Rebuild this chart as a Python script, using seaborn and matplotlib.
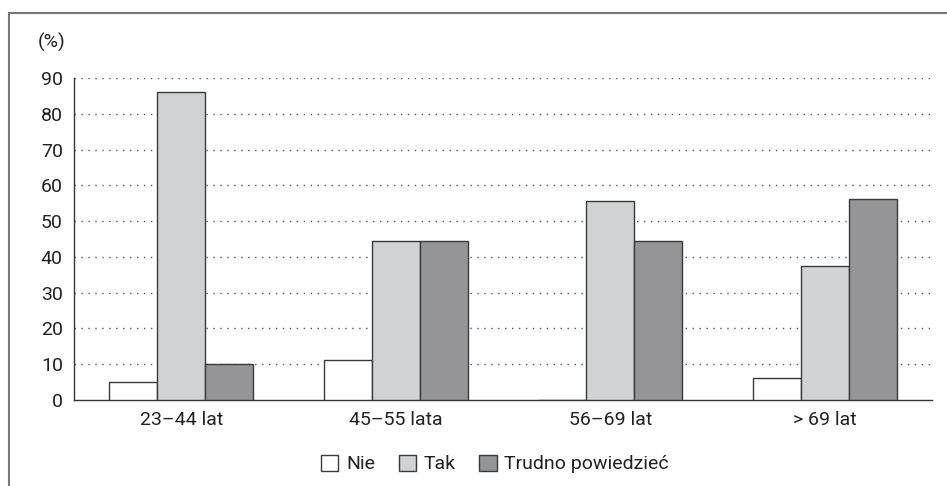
import matplotlib
matplotlib.use("Agg")
import matplotlib.pyplot as plt
from matplotlib.lines import Line2D
from matplotlib.patches import Patch
import seaborn as sns
import pandas as pd

categories = ["23–44 lat", "45–55 lata", "56–69 lat", "> 69 lat"]
series = ["Nie", "Tak", "Trudno powiedzieć"]
nie = [5, 11.1, 0, 6.25]
tak = [86, 44.4, 55.6, 37.5]
trudno = [10, 44.4, 44.4, 56.25]
yticks = [0, 10, 20, 30, 40, 50, 60, 70, 80, 90]
colors = ["#ffffff", "#d1d2d4", "#949598"]

rows = []
for s, vals in zip(series, [nie, tak, trudno]):
    for c, v in zip(categories, vals):
        rows.append({"cat": c, "series": s, "val": v})
df = pd.DataFrame(rows)

sns.set_style("white")
plt.rcParams["font.family"] = ["Liberation Sans Narrow", "Roboto", "DejaVu Sans"]

fig = plt.figure(figsize=(9.47, 4.86), dpi=100)
ax = fig.add_axes([74/947, 1-400/486, (932-74)/947, (400-78)/486])

sns.barplot(data=df, x="cat", y="val", hue="series", order=categories,
            hue_order=series, palette=colors, width=0.67, edgecolor="#3a3a3a",
            linewidth=1.0, ax=ax, legend=False, zorder=3)

ax.set_ylim(0, 90)
ax.set_xlim(-0.5, 3.5)
ax.set_yticks(yticks)
ax.set_yticklabels([str(t) for t in yticks], fontsize=14, color="#222222")
for t in yticks[1:]:
    ax.axhline(t, color="#555555", linestyle=(0, (1, 4)), linewidth=1.0, zorder=1)

ax.set_xticks(range(len(categories)))
ax.set_xticklabels(categories, fontsize=14, color="#222222")
ax.set_xticks([i - 0.5 for i in range(len(categories) + 1)], minor=True)
ax.tick_params(axis="x", which="major", length=0, pad=8)
ax.tick_params(axis="x", which="minor", length=8, width=1, color="#333333", direction="out")
ax.tick_params(axis="y", which="major", length=6, width=1, color="#333333", direction="out", pad=2)
ax.set_xlabel("")
ax.set_ylabel("")
for side in ["top", "right"]:
    ax.spines[side].set_visible(False)
for side in ["left", "bottom"]:
    ax.spines[side].set_color("#333333")
    ax.spines[side].set_linewidth(1.0)

handles = [Patch(facecolor=c, edgecolor="#3a3a3a", linewidth=1.0) for c in colors]
fig.legend(handles, series, loc="center", bbox_to_anchor=(495/947, 1-464/486),
           ncol=3, frameon=False, fontsize=14, handlelength=0.9, handleheight=0.9,
           handletextpad=0.4, columnspacing=1.2, labelcolor="#222222")

fig.text(52/947, 1-42/486, "(%)", ha="center", va="center", fontsize=14, color="#222222")

fx = 9/947
fy = 1 - 13/486
fig.add_artist(Line2D([fx, 1], [fy, fy], transform=fig.transFigure, color="#777777", linewidth=1.5))
fig.add_artist(Line2D([fx, fx], [0, fy], transform=fig.transFigure, color="#777777", linewidth=1.5))

fig.savefig("out.png", dpi=100, facecolor="white")
